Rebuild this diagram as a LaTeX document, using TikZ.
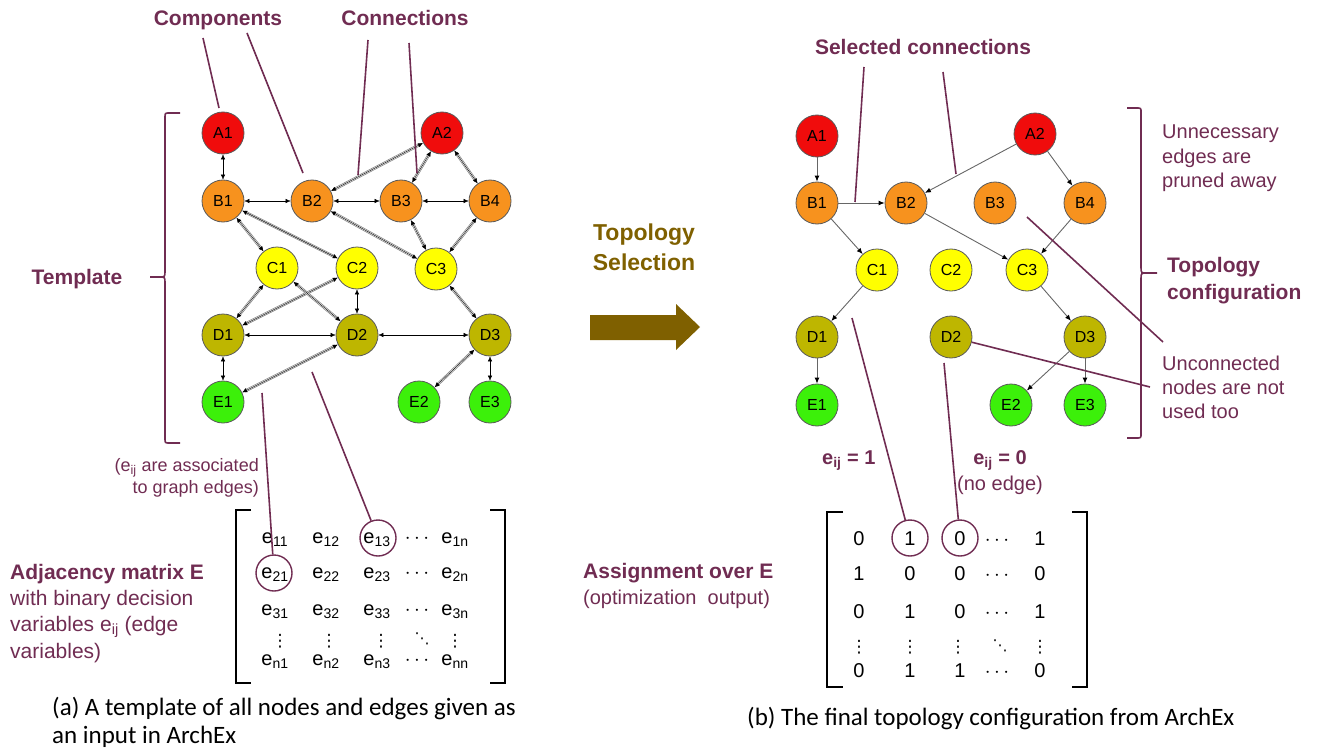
\documentclass[tikz,border=0pt]{standalone}
\usepackage{fontspec}
\setmainfont{Liberation Sans}
\newfontfamily\capfont{Carlito}
\newfontfamily\symfont{DejaVu Sans}
\usetikzlibrary{arrows.meta}
\definecolor{annot}{RGB}{112,44,82}
\definecolor{selcol}{RGB}{127,96,0}
\definecolor{cA}{RGB}{240,12,12}
\definecolor{cB}{RGB}{247,146,30}
\definecolor{cC}{RGB}{255,255,0}
\definecolor{cD}{RGB}{190,182,0}
\definecolor{cE}{RGB}{60,240,10}
\newcommand\pxfont[2]{\fontsize{#1}{#2}\selectfont}
\begin{document}
\begin{tikzpicture}[x=1pt,y=-1pt,
  comp/.style={circle, draw=black!65, line width=0.8pt, minimum size=42pt, inner sep=0pt, font=\pxfont{16}{18}},
  tplline/.style={draw=black!50, double=white, double distance=1.5pt, line width=0.7pt, shorten <=3pt, shorten >=3pt},
  tpltip/.style={draw=black, line width=0.45pt, {Latex[length=5pt,width=4.5pt]}-{Latex[length=5pt,width=4.5pt]}},
  selline/.style={draw=black!60, line width=0.9pt, -{Latex[length=6pt,width=5pt,color=black]}},
  pointer/.style={draw=annot, line width=1.6pt},
  ring/.style={circle, draw=annot, line width=1.4pt, minimum size=36pt, inner sep=0pt},
  bracket/.style={draw=black, line width=1.8pt},
  brace/.style={draw=annot, line width=1.6pt},
  lbl/.style={text=annot, font=\pxfont{21}{26}\bfseries, inner sep=0pt},
  note/.style={text=annot, font=\pxfont{20}{24}, inner sep=0pt},
  ent/.style={font=\pxfont{20}{24}, inner sep=0pt, anchor=base},
  dots/.style={font=\symfont\pxfont{17}{17}, inner sep=0pt, text height=11pt, text depth=0pt},
  capt/.style={font=\capfont\pxfont{25}{30}, inner sep=0pt, anchor=base west}
]
\useasboundingbox (0,0) rectangle (1322,749);

% ---------------- template graph ----------------
\node[comp, fill=cA] (LA1) at (223,133) {A1};
\node[comp, fill=cA] (LA2) at (442,133) {A2};
\node[comp, fill=cB] (LB1) at (223,201) {B1};
\node[comp, fill=cB] (LB2) at (312,201) {B2};
\node[comp, fill=cB] (LB3) at (401,201) {B3};
\node[comp, fill=cB] (LB4) at (490,201) {B4};
\node[comp, fill=cC] (LC1) at (277,268) {C1};
\node[comp, fill=cC] (LC2) at (357,268) {C2};
\node[comp, fill=cC] (LC3) at (436,269) {C3};
\node[comp, fill=cD] (LD1) at (223,335) {D1};
\node[comp, fill=cD] (LD2) at (357,335) {D2};
\node[comp, fill=cD] (LD3) at (490,335) {D3};
\node[comp, fill=cE] (LE1) at (223,402) {E1};
\node[comp, fill=cE] (LE2) at (419,402) {E2};
\node[comp, fill=cE] (LE3) at (490,402) {E3};

\foreach \a/\b in {LA1/LB1, LA2/LB2, LA2/LB3, LA2/LB4, LB1/LB2, LB2/LB3, LB3/LB4,
                   LB1/LC1, LB1/LC2, LB2/LC3, LB3/LC3, LB4/LC3, LC1/LD1, LC2/LD1,
                   LC1/LD2, LC2/LD2, LC3/LD3, LD1/LD2, LD2/LD3, LD1/LE1, LE1/LD2,
                   LD3/LE2, LD3/LE3}
  {\draw[tplline] (\a) -- (\b); \draw[tpltip] (\a) -- (\b);}

% ---------------- selected topology ----------------
\node[comp, fill=cA] (RA1) at (817,136) {A1};
\node[comp, fill=cA] (RA2) at (1035,134) {A2};
\node[comp, fill=cB] (RB1) at (817,203) {B1};
\node[comp, fill=cB] (RB2) at (906,203) {B2};
\node[comp, fill=cB] (RB3) at (995,203) {B3};
\node[comp, fill=cB] (RB4) at (1085,203) {B4};
\node[comp, fill=cC] (RC1) at (877,270) {C1};
\node[comp, fill=cC] (RC2) at (951,270) {C2};
\node[comp, fill=cC] (RC3) at (1027,270) {C3};
\node[comp, fill=cD] (RD1) at (817,337) {D1};
\node[comp, fill=cD] (RD2) at (951,337) {D2};
\node[comp, fill=cD] (RD3) at (1085,337) {D3};
\node[comp, fill=cE] (RE1) at (817,405) {E1};
\node[comp, fill=cE] (RE2) at (1011,405) {E2};
\node[comp, fill=cE] (RE3) at (1085,405) {E3};

\foreach \a/\b in {RA1/RB1, RB1/RB2, RA2/RB2, RA2/RB4, RB1/RC1, RB2/RC3, RB4/RC3,
                   RC1/RD1, RC3/RD3, RD1/RE1, RD3/RE2, RD3/RE3}
  \draw[selline] (\a) -- (\b);

% ---------------- headings ----------------
\node[lbl, anchor=base] (hcomp) at (218,26) {Components};
\node[lbl, anchor=base] (hconn) at (405,26) {Connections};
\node[lbl, anchor=base] (hsel) at (923,55) {Selected connections};
\node[lbl, anchor=base] (htpl) at (77,284) {Template};

\coordinate (p1a) at (203,38);  \coordinate (p1b) at (219,108);
\coordinate (p2a) at (247,33);  \coordinate (p2b) at (303,173);
\coordinate (p3a) at (368,40);  \coordinate (p3b) at (358,175);
\coordinate (p4a) at (409,43);  \coordinate (p4b) at (417,173);
\draw[pointer] (p1a) -- (p1b);
\draw[pointer] (p2a) -- (p2b);
\draw[pointer] (p3a) -- (p3b);
\draw[pointer] (p4a) -- (p4b);

\coordinate (s1a) at (864,67);  \coordinate (s1b) at (855,202);
\coordinate (s2a) at (943,72);  \coordinate (s2b) at (956,174);
\draw[pointer] (s1a) -- (s1b);
\draw[pointer] (s2a) -- (s2b);

% template brace
\draw[brace] (180,113) -- (169,113) .. controls (165,113) .. (165,118) -- (165,271)
  .. controls (165,277) .. (159,277) -- (150,277);
\draw[brace] (159,277) .. controls (165,277) .. (165,283) -- (165,438)
  .. controls (165,443) .. (169,443) -- (180,443);

% topology configuration brace
\draw[brace] (1127,108) -- (1137,108) .. controls (1141,108) .. (1141,113) -- (1141,267)
  .. controls (1141,273) .. (1147,273) -- (1157,273);
\draw[brace] (1147,273) .. controls (1141,273) .. (1141,279) -- (1141,433)
  .. controls (1141,438) .. (1137,438) -- (1127,438);

% ---------------- selection arrow ----------------
\node[text=selcol, font=\pxfont{23}{30}\bfseries, align=center, inner sep=0pt] (tsel) at (644,247) {Topology\\Selection};
\fill[selcol] (590,315) -- (676,315) -- (676,304) -- (700,327) -- (676,350) -- (676,340) -- (590,340) -- cycle;

% ---------------- right-hand notes ----------------
\node[note, anchor=base west] (n1) at (1162,139) {Unnecessary};
\node[note, anchor=base west] (n2) at (1162,163) {edges are};
\node[note, anchor=base west] (n3) at (1162,187) {pruned away};
\node[lbl, anchor=base west] (n4) at (1167,272) {Topology};
\node[lbl, anchor=base west] (n5) at (1167,299) {configuration};
\node[note, anchor=base west] (n6) at (1162,370) {Unconnected};
\node[note, anchor=base west] (n7) at (1162,394) {nodes are not};
\node[note, anchor=base west] (n8) at (1162,418) {used too};

\coordinate (u1a) at (1027,217); \coordinate (u1b) at (1163,342);
\coordinate (u2b) at (1150,387);
\draw[pointer] (u1a) -- (u1b);
\draw[pointer] (RD2) -- (u2b);

% ---------------- adjacency matrix E ----------------
\node[note, anchor=base east, font=\pxfont{18}{22}] (as1) at (259,471) {(e\textsubscript{ij} are associated};
\node[note, anchor=base east, font=\pxfont{18}{22}] (as2) at (259,493) {to graph edges)};

\node[lbl, anchor=base west] (adj1) at (10,579) {Adjacency matrix E};
\node[note, anchor=base west, font=\pxfont{21}{26}] (adj2) at (10,605) {with binary decision};
\node[note, anchor=base west, font=\pxfont{21}{26}] (adj3) at (10,631) {variables e\textsubscript{ij} (edge};
\node[note, anchor=base west, font=\pxfont{21}{26}] (adj4) at (10,658) {variables)};

\draw[bracket] (251,510) -- (236,510) -- (236,683) -- (251,683);
\draw[bracket] (490,510) -- (505,510) -- (505,683) -- (490,683);

\foreach \r/\y in {1/543, 2/578, 3/615} {
  \node[ent] at (275,\y) {e\textsubscript{\r1}};
  \node[ent] at (326,\y) {e\textsubscript{\r2}};
  \node[ent] at (377,\y) {e\textsubscript{\r3}};
  \node[ent] at (417,\y) {$\cdots$};
  \node[ent] at (455,\y) {e\textsubscript{\r n}};
}
\node[ent] at (275,665) {e\textsubscript{n1}};
\node[ent] at (326,665) {e\textsubscript{n2}};
\node[ent] at (377,665) {e\textsubscript{n3}};
\node[ent] at (417,665) {$\cdots$};
\node[ent] at (455,665) {e\textsubscript{nn}};
\foreach \x in {280,329,381,455} \node[dots] at (\x,641) {⋮};
\node[dots, font=\symfont\pxfont{15}{15}] at (422,638) {⋱};

\node[ring] (c21) at (274,573) {};
\node[ring] (c13) at (378,538) {};
\coordinate (m1) at (262,393);
\coordinate (m2) at (312,372);
\draw[pointer] (m1) -- (c21);
\draw[pointer] (m2) -- (c13);

% ---------------- assignment over E ----------------
\node[lbl, anchor=base west] (asg1) at (583,578) {Assignment over E};
\node[note, anchor=base west] (asg2) at (583,604) {(optimization\ \ output)};

\node[lbl, anchor=base west, font=\pxfont{20}{24}\bfseries] (e1) at (822,464) {e\textsubscript{ij} = 1};
\node[lbl, anchor=base, font=\pxfont{20}{24}\bfseries] (e0) at (1000,464) {e\textsubscript{ij} = 0};
\node[note, anchor=base] (e0b) at (1000,490) {(no edge)};

\draw[bracket] (843,512) -- (827,512) -- (827,687) -- (843,687);
\draw[bracket] (1072,512) -- (1087,512) -- (1087,687) -- (1072,687);

\foreach \a/\b/\c/\d/\y in {0/1/0/1/545, 1/0/0/0/580, 0/1/0/1/618, 0/1/1/0/677} {
  \node[ent] at (859,\y) {\a};
  \node[ent] at (910,\y) {\b};
  \node[ent] at (960,\y) {\c};
  \node[ent] at (997,\y) {$\cdots$};
  \node[ent] at (1040,\y) {\d};
}
\foreach \x in {859,910,958,1040} \node[dots] at (\x,647) {⋮};
\node[dots, font=\symfont\pxfont{15}{15}] at (1000,645) {⋱};

\node[ring] (r1) at (910,538) {};
\node[ring] (r0) at (960,538) {};
\coordinate (q1) at (852,318);
\coordinate (q0) at (944,363);
\draw[pointer] (q1) -- (r1);
\draw[pointer] (q0) -- (r0);

% ---------------- captions ----------------
\node[capt] (capa1) at (52,715) {(a) A template of all nodes and edges given as};
\node[capt] (capa2) at (52,743) {an input in ArchEx};
\node[capt] (capb) at (747,725) {(b) The final topology configuration from ArchEx};
\end{tikzpicture}
\end{document}
